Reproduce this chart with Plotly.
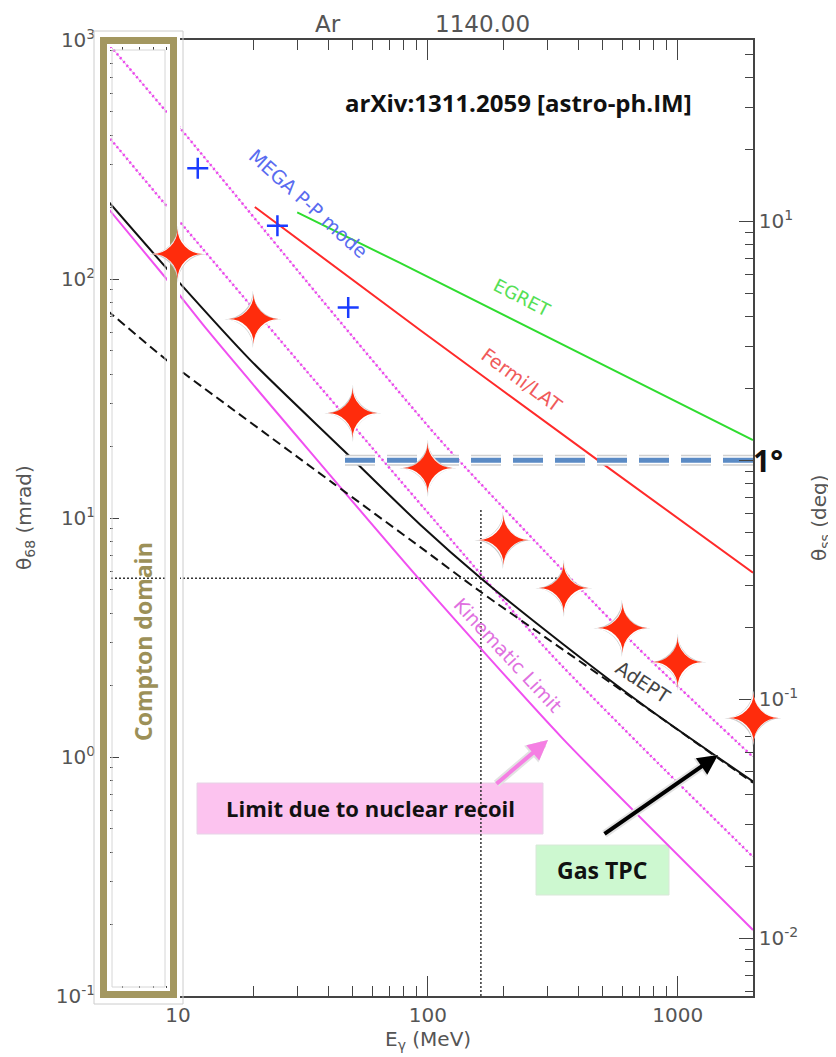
import math
import plotly.graph_objects as go

# ---------------- data ----------------
E_EGRET = [30, 77, 2000]
TH_EGRET = [190, 117, 21.2]

E_FERMI = [20.3, 93, 474, 2000]
TH_FERMI = [200, 61.2, 17.6, 5.9]

E_ADEPT = [5.2, 10, 19.4, 45.7, 93, 163, 350, 758, 2000]
TH_ADEPT = [214, 98, 46, 19.3, 9.4, 5.6, 2.95, 1.6, 0.79]

E_TPC = [5.2, 9.0, 10.5, 41.7, 93, 163, 794, 2000]
TH_TPC = [74, 45.8, 40.5, 14.0, 7.57, 4.9, 1.54, 0.78]

E_KIN = [5.2, 9.3, 13.1, 93, 345, 2000]
TH_KIN = [200, 96, 61.2, 5.5, 1.20, 0.189]

E_DOT_A = [5.2, 10.2, 37.7, 112, 273, 686, 2000]
TH_DOT_A = [980, 428, 81.7, 21.2, 7.85, 2.89, 1.0]

E_DOT_B = [5.2, 10.2, 25.6, 77.3, 308, 773, 2000]
TH_DOT_B = [401, 173, 55.6, 14.4, 2.72, 1.02, 0.382]

E_MEGA = [12, 25, 48]
TH_MEGA = [291, 167, 76]

E_STARS = [10, 20, 50, 100, 200, 350, 600, 1000, 2000]
TH_STARS = [126, 67, 27, 15.9, 8.0, 5.0, 3.4, 2.45, 1.44]

E_ONE_DEG = [46.6, 2000]
DEG_ONE_DEG = [1, 1]

E_VREF = [163, 163]
TH_VREF = [0.1, 10.8]
E_HREF = [5.2, 330]
TH_HREF = [5.6, 5.6]

X_RANGE = [5.2, 2000]
Y_RANGE = [0.1, 1000]
MRAD_TO_DEG = 180.0 / math.pi / 1000.0

X_TICKS = [10, 100, 1000]
X_TICKTEXT = ["10", "100", "1000"]
Y_TICKS = [0.1, 1, 10, 100, 1000]
Y_TICKTEXT = ["10<sup>-1</sup>", "10<sup>0</sup>", "10<sup>1</sup>", "10<sup>2</sup>", "10<sup>3</sup>"]
Y2_TICKS = [0.01, 0.1, 1, 10]
Y2_TICKTEXT = ["10<sup>-2</sup>", "10<sup>-1</sup>", "", "10<sup>1</sup>"]

# ---------------- figure geometry ----------------
OFF = 8  # page margin of the browser body
W, H = 836 - OFF, 1057 - OFF
L, T = 107 - OFF, 40 - OFF
PW, PH = 646, 956
R, B = W - L - PW, H - T - PH


def px(x):
    return (x - OFF - L) / PW


def py(y):
    return (T + PH - (y - OFF)) / PH


def minor_vals(lo_exp, hi_exp):
    return [m * 10 ** e for e in range(lo_exp, hi_exp + 1) for m in range(2, 10)]


TICKFONT = dict(family="DejaVu Sans", size=20, color="#555555")
AXCOL = "#444444"
LBL = "DejaVu Sans"

fig = go.Figure()

# dotted multiple-scattering curves
for ex, th in [(E_DOT_A, TH_DOT_A), (E_DOT_B, TH_DOT_B)]:
    fig.add_trace(go.Scatter(x=ex, y=th, mode="lines", line=dict(color="#dcb6e0", width=1, shape="spline", smoothing=0.6), hoverinfo="skip"))
    fig.add_trace(go.Scatter(x=ex, y=th, mode="lines", line=dict(color="#ee44ee", width=2.5, dash="2px,3px", shape="spline", smoothing=0.6)))

# reference dotted cross lines
fig.add_trace(go.Scatter(x=E_VREF, y=TH_VREF, mode="lines", line=dict(color="#333333", width=1.5, dash="2px,2px")))
fig.add_trace(go.Scatter(x=E_HREF, y=TH_HREF, mode="lines", line=dict(color="#333333", width=1.5, dash="2px,2px")))

# EGRET, Fermi
fig.add_trace(go.Scatter(x=E_EGRET, y=TH_EGRET, mode="lines", line=dict(color="#2fdc2f", width=2, shape="spline")))
fig.add_trace(go.Scatter(x=E_FERMI, y=TH_FERMI, mode="lines", line=dict(color="#ff2a2a", width=2, shape="spline")))

# kinematic limit
fig.add_trace(go.Scatter(x=E_KIN, y=TH_KIN, mode="lines", line=dict(color="#f050f0", width=2, shape="spline", smoothing=0.6)))
# gas TPC (dashed) and AdEPT (solid)
fig.add_trace(go.Scatter(x=E_TPC, y=TH_TPC, mode="lines", line=dict(color="#111111", width=2, dash="9px,5px", shape="spline", smoothing=0.6)))
fig.add_trace(go.Scatter(x=E_ADEPT, y=TH_ADEPT, mode="lines", line=dict(color="#111111", width=2, shape="spline", smoothing=0.8)))

# MEGA points
fig.add_trace(go.Scatter(x=E_MEGA, y=TH_MEGA, mode="markers",
                         marker=dict(symbol="cross-thin-open", size=15, color="#1a3cff", line=dict(color="#1a3cff", width=2.5))))

# 1 degree line on the degree axis
for col, wid in [("#cfcfcf", 11), ("#ffffff", 8), ("#5b8bc5", 5)]:
    fig.add_trace(go.Scatter(x=E_ONE_DEG, y=DEG_ONE_DEG, yaxis="y2", mode="lines", line=dict(color=col, width=wid, dash="30px,12px")))

shapes = []
# text boxes
shapes.append(dict(type="rect", xref="paper", yref="paper", x0=px(197), x1=px(543), y0=py(834), y1=py(783),
                   fillcolor="#fcc3ef", line=dict(color="#e6d3e6", width=1), layer="below"))
shapes.append(dict(type="rect", xref="paper", yref="paper", x0=px(536), x1=px(669), y0=py(895), y1=py(845),
                   fillcolor="#cdf8d0", line=dict(color="#d8e8d8", width=1), layer="below"))
# Compton domain frame
shapes.append(dict(type="rect", xref="paper", yref="paper", x0=px(103.5), x1=px(173.5), y0=py(994.5), y1=py(40.5),
                   line=dict(color="#ffffff", width=13), layer="above"))
shapes.append(dict(type="rect", xref="paper", yref="paper", x0=px(94), x1=px(183), y0=py(1004), y1=py(31),
                   line=dict(color="#cccccc", width=1), layer="above"))
shapes.append(dict(type="rect", xref="paper", yref="paper", x0=px(112), x1=px(165), y0=py(987), y1=py(50),
                   line=dict(color="#d6d6d6", width=1), layer="above"))
shapes.append(dict(type="rect", xref="paper", yref="paper", x0=px(103.5), x1=px(173.5), y0=py(994.5), y1=py(40.5),
                   line=dict(color="#a39760", width=7), layer="above"))

ann = []


def A(text, x, y, size, color, angle=0, family=LBL):
    ann.append(dict(text=text, xref="paper", yref="paper", x=px(x), y=py(y), showarrow=False,
                    xanchor="center", yanchor="middle",
                    textangle=angle, font=dict(family=family, size=size, color=color)))


# stars: four-pointed glyphs placed on the data axes (drawn above the Compton frame)
for col, size in [("#cccccc", 76), ("#ffffff", 72), ("#ff2c0c", 66)]:
    for e, t in zip(E_STARS, TH_STARS):
        ann.append(dict(text="✦", xref="x", yref="y", x=math.log10(e), y=math.log10(t), showarrow=False,
                        xanchor="center", yanchor="middle", font=dict(family="DejaVu Sans", size=size, color=col)))

A("Ar", 328, 24, 23, "#555555")
A("1140.00", 483, 24, 23, "#555555")
A("<b>arXiv:1311.2059 [astro-ph.IM]</b>", 518, 103, 24, "#111111", family="Open Sans")
A("MEGA P-P mode", 308, 203, 19, "#5a6cf0", angle=42)
A("EGRET", 522, 297, 18, "#55e055", angle=27)
A("Fermi/LAT", 522, 380, 19, "#f05a5a", angle=36)
A("AdEPT", 643, 682, 19, "#444444", angle=33)
A("Kinematic Limit", 508, 655, 19, "#e070e0", angle=47)
A("<b>Compton domain</b>", 143, 642, 23, "#9c9058", angle=-90, family="Open Sans")
A("<b>Limit due to nuclear recoil</b>", 370, 808, 22, "#111111", family="Open Sans")
A("<b>Gas TPC</b>", 602, 870, 23, "#111111", family="Open Sans")
A("<b>1°</b>", 768, 460, 30, "#111111", family="Open Sans")
A("θ<sub>68</sub> (mrad)", 25, 518, 20, "#555555", angle=-90)
A("θ<sub>ss</sub> (deg)", 820, 518, 20, "#555555", angle=-90)
A("E<sub>γ</sub> (MeV)", 428, 1040, 20, "#555555")

# arrows (with a faint halo)
for col, wid, sz in [("#e2e2e2", 8, 0.55), ("#f57fe3", 4, 1.0)]:
    ann.append(dict(text="", xref="paper", yref="paper", x=px(548), y=py(740), ax=495 - 548, ay=785 - 740,
                    axref="pixel", ayref="pixel", showarrow=True, arrowhead=2, arrowsize=sz,
                    arrowwidth=wid, arrowcolor=col))
for col, wid, sz in [("#e2e2e2", 8, 0.55), ("#000000", 4, 1.0)]:
    ann.append(dict(text="", xref="paper", yref="paper", x=px(718), y=py(755), ax=603 - 718, ay=835 - 755,
                    axref="pixel", ayref="pixel", showarrow=True, arrowhead=2, arrowsize=sz,
                    arrowwidth=wid, arrowcolor=col))

fig.update_layout(
    width=W, height=H, margin=dict(l=L, r=R, t=T, b=B),
    paper_bgcolor="white", plot_bgcolor="white", showlegend=False,
    shapes=shapes, annotations=ann,
    xaxis=dict(type="log", range=[math.log10(X_RANGE[0]), math.log10(X_RANGE[1])],
               tickvals=X_TICKS, ticktext=X_TICKTEXT, ticks="inside", ticklen=20, tickwidth=1.3, tickcolor=AXCOL,
               minor=dict(ticks="inside", ticklen=10, tickwidth=1.3, tickcolor=AXCOL, tickvals=minor_vals(0, 3), showgrid=False),
               showline=True, linecolor=AXCOL, linewidth=1.5, mirror="ticks", showgrid=False, zeroline=False,
               tickfont=TICKFONT),
    yaxis=dict(type="log", range=[math.log10(Y_RANGE[0]), math.log10(Y_RANGE[1])],
               tickvals=Y_TICKS, ticktext=Y_TICKTEXT, ticks="inside", ticklen=12, tickwidth=1.3, tickcolor=AXCOL,
               minor=dict(ticks="inside", ticklen=6, tickwidth=1.3, tickcolor=AXCOL, tickvals=minor_vals(-1, 2), showgrid=False),
               showline=True, linecolor=AXCOL, linewidth=1.5, showgrid=False, zeroline=False, tickfont=TICKFONT,
               ticklabelstandoff=6),
    yaxis2=dict(type="log", overlaying="y", side="right", anchor="x",
                range=[math.log10(Y_RANGE[0] * MRAD_TO_DEG), math.log10(Y_RANGE[1] * MRAD_TO_DEG)],
                tickvals=Y2_TICKS, ticktext=Y2_TICKTEXT, ticks="inside", ticklen=14, tickwidth=1.3, tickcolor=AXCOL,
                minor=dict(ticks="inside", ticklen=8, tickwidth=1.3, tickcolor=AXCOL, tickvals=minor_vals(-3, 1), showgrid=False),
                showline=True, linecolor=AXCOL, linewidth=1.5, showgrid=False, zeroline=False, tickfont=TICKFONT),
)

fig.write_html("out.html")
